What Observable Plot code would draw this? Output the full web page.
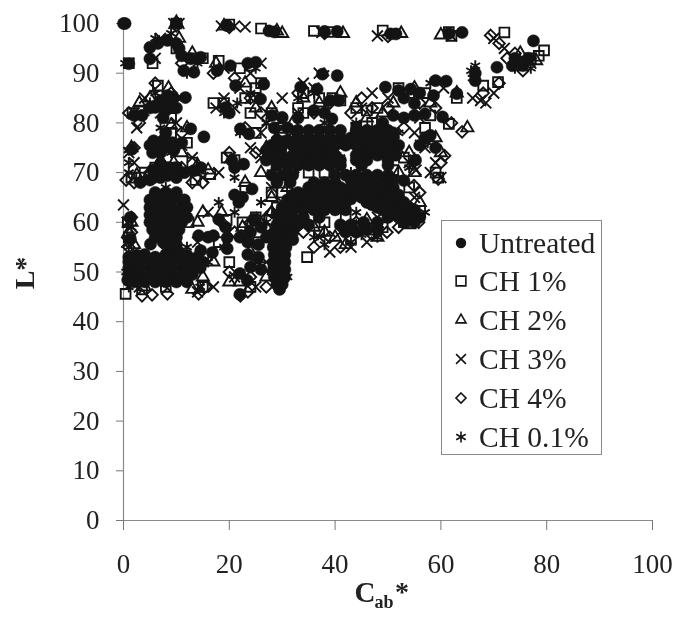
<!DOCTYPE html>
<html>
<head>
<meta charset="utf-8">
<script src="https://cdn.jsdelivr.net/npm/d3@7"></script>
<script src="https://cdn.jsdelivr.net/npm/@observablehq/plot@0.6"></script>
<style>
html,body{margin:0;padding:0;background:#fff;}
#wrap{position:relative;width:674px;height:617px;overflow:hidden;filter:blur(0.5px);}
#legend{position:absolute;left:441px;top:220px;width:161px;height:235px;border:1px solid #8a8a8a;background:#fff;box-sizing:border-box;font-family:"Liberation Serif",serif;font-size:29.5px;color:#222;}
#legend .row{position:absolute;left:0;height:38px;display:flex;align-items:center;white-space:nowrap;}
#legend svg{width:26px;height:20px;margin-left:6px;margin-right:5px;overflow:visible;}
</style>
</head>
<body>
<div id="wrap"><div id="chart"></div><div id="legend"></div></div>
<script>
const xTicks = [0,20,40,60,80,100];
const yTicks = [0,10,20,30,40,50,60,70,80,90,100];
const seriesNames = ["Untreated","CH 1%","CH 2%","CH 3%","CH 4%","CH 0.1%"];

const untreated = [
[0,100],[0.3,100],[10,100],[19.5,99.6],[27.5,98.5],[28.5,98.3],[40.4,98.4],[38,98.4],[50.5,97.9],[51.5,97.9],[64,98.2],[61.5,98],[77.5,96.5],[74,93],[75.5,91.5],[76.5,93],[73.5,91.5],[70.6,91.2],[66.5,90],[66.5,88.5],
[1,91.9],[5,92.9],[5,95.2],[8.3,96.6],[6.5,96],[10,96],[10.5,95],[11,93.5],[12.7,92.9],[14.6,93.2],[11.4,90.5],[13.3,90.2],[17.7,90.5],[20.2,91.5],[23.5,92],[25,92.2],[21.2,87.5],[26.5,87.8],[25.9,84.8],[28.1,81.5],[30,81.1],[37.6,89.8],[40.4,89.5],[36.6,86.8],[39.1,84.5],[40.7,84.5],[33.5,87.2],[36,82.5],[38,82],[39.4,80.8],[33,81],
[49.5,87.2],[52,86.5],[54.3,86.8],[56,86],[58.6,85.5],[61,88.4],[59,88.5],[63,85.9],[53,85],[55,83.9],[55,81.5],[57,81.8],[60.3,81.2],[51,81.5],[53,81],[49,80],[57,77],[56,75.5],[58,77.5],[59,75],[55.2,72.5],[53,68.4],
[11.7,85.1],[7,84.5],[8.3,85.5],[9.5,85],[6,83.1],[8,82.5],[10,83],[7.5,81],[3.5,81.5],[2,81.5],[5,83],[7,83.5],[9,84],[19.3,83.1],[20,82],[23.7,77.8],[22.1,78.8],
[15.2,77.2],[12.7,78.8],[5.7,76.4],[5.5,74],[7,74],[7.5,76.5],[9.2,76],[8,78],[11,76],[1.6,74.7],[6.5,75],[8,75],[9.5,74.5],[5,75.5],
[3.2,68],[5,68.5],[5.7,69],[7,69],[8.3,69.4],[10,69],[10,71],[7,71.7],[8.5,71],[11.5,70],[13.3,70.4],[14.6,71],[22.7,71.7],[21,71],[20.5,72.4],[24.3,66.7],[21.8,64],[21,65.5],[22.5,65],[5.5,70.5],[9,70],[6.5,70],
[6,66],[8,66],[10,66],[5,64.5],[7,64.5],[9,64.5],[11.5,64.5],[5,63],[7,63],[9,63],[11,63],[5,61.5],[7,61.5],[9,61.5],[11,61.5],[5,60],[7,60],[9,60],[11,60],[5.5,58.5],[7,58.5],[9,58.5],[10.5,58.5],[6,57],[8,57],[10,57],[5.1,55.6],[8.5,55.5],[10,55.5],[9,54],[10.5,54],[1.3,61],[1.3,56.6],
[6,65],[8,65],[10,65],[6,62.5],[8,62.5],[10,62.5],[12,63],[6,60.8],[8,60.8],[10,60.8],[12,61],[6,59.2],[8,59.2],[10,59.2],[7,57.8],[9,57.8],[7.5,56],
[18,60.6],[14.2,57.3],[16,57],[17,57.3],[19.6,56.9],[19.6,54.7],[19.3,59],[22,57],[14.6,54.3],[16.8,53.9],[22,49.7],[23.4,48.3],[22,45.5],
[1,53],[2.5,53.4],[4,53.5],[6,53],[8,53.5],[10,53.5],[12,53.4],[14,53],[1,52],[3,52],[5,52],[7,52],[9,52],[11,52],[13,52],[15,52],
[1,50.8],[3,50.8],[5,50.8],[7,50.8],[9,50.8],[11,50.8],[13,50.8],[14.5,50.8],[1,49.5],[3,49.5],[5,49.5],[7,49.5],[9,49.5],[11,49.5],[13,49.5],
[0.8,48.4],[2,48],[4,48],[6,48],[8,48],[10,48],[12,48],
[24.6,60.6],[24,58],[26,59],[27,57],[23.5,56],[25.5,55.5],[23.5,53.5],[25.5,53],[24,51],[26,50.5],
[29.5,46.5],[29,47.5],[30,47.5],[28.5,49],[29.5,49],[30.5,49],[28.5,50.5],[29.5,50.5],[30.5,50.5],[28.5,52],[29.5,52],[30.5,52],[28.5,53.5],[29.5,53.5],[30.5,53.5],[28.3,55],[29.5,55],[30.7,55],[28.3,56.5],[29.5,56.5],[30.9,56.5],[32,56.5],[28.5,58],[30,58],[31,58],[32,58],[29,59.5],[30,60],[31.5,60],[33,59.5],[29,61.5],[30,63],[31,62],[31,64.5],
[28.5,79],[31,79],[33,78.5],[35,78.5],[37,78.5],[39,78.5],[41,78.5],[44,78.5],[46,78.5],[48,78.5],[50,78.5],[51,78],
[33,77],[35,77],[37,77],[39,77],[41,77],[43,77],[45,77],[47,77],[49,77],[51,77],
[29,76.5],[31,76.5],[33,76],[35,76],[37,76],[39,76],[41,76],[43,76],[45,76],[47,76],[49,76],[51,76],
[28,75.5],[30,75.5],[32,75.5],[34,75.5],[36,75.5],[38,75.5],[40,75.5],[42,75.5],[44,75.5],[46,75.5],[48,75.5],[50,75.5],[52,75.5],
[27,74.5],[29,74.5],[33,74.5],[35,74.5],[37,74.5],[39,74.5],[45,74.5],[47,74.5],[49,74.5],[51,74.5],
[28,73.5],[30,73.5],[32,73.5],[34,73.5],[36,73.5],[38,73.5],[40,73.5],[44,73.5],[46,73.5],[48,73.5],[50,73.5],[51.5,73.5],
[27,72.5],[29,72.5],[31,72.5],[33,72.5],[35,72.5],[37,72.5],[39,72.5],[41,72.5],[44,72.5],[46,72.5],[50,72.5],
[29,71.5],[31,71.5],[33,71.5],[35,71.5],[37,71.5],[39,71.5],[41,71.5],[45,71.5],[50,71.5],
[28,69.5],[30,69.5],[32,69.5],[40,69.5],[42,69.5],[44,69.5],[46,69.5],[48,69.5],[50,69.5],
[29,68],[31.5,68],[43,68.5],[45,68.5],[47,68.5],[49,68.5],[51,68.5],[44,68],[46,68],[48,68],[50,68],
[36,68],[38,68],[40,68],[35,67],[37,67],[39,67],[41,67],[43,67],[45,67],[47,67],[49,67],[51,67],
[36,67],[38,67],[40,67],[42,66.5],[44,66.5],[46,66.5],[48,66.5],[50,66.5],
[33,66],[35,66],[37,66],[39,66],[41,66],[43,66],[45,66],[47,66],[49,66],[51,66],
[32,65.5],[34,65.5],[36,65.5],[38,65.5],[40,65.5],[42,65.5],[45,65],[47,65],[49,65],[51,65],[52,65.5],
[33,64.7],[35,64.7],[37,64.7],[39,64.7],[41,64.7],[43,64.7],[46,64],[48,64],[50,64],[52,64.5],
[32,64],[34,64],[36,64],[38,64],[40,64],[42,64],[47,63.5],[49,63.5],[51,64],[53,64],
[33,63.2],[35,63.2],[37,63.2],[39,63.2],[41,63.2],[48,63],[50,63],[52,63.2],[54,63],
[32,62.5],[34,62.5],[36,62.5],[38,62.5],[40,62.5],[42,62.5],[49,62.5],[51,62.5],[53,62.5],[55,62.5],
[32,61],[34,61],[37,61],[50,61],[52,61],[54,61],[56,61],[51,61.8],[53,61.8],[55,61.8],
[35,59.5],[41,59.5],[43,59.5],[45.4,60],[48,60],[53,60],[55,60],[42,58],[44,58],[46,58.5],[48,58.5]
];

const ch1 = [
[10,100],[20,99.8],[26,99],[36,98.5],[39,98.3],[49,98.6],[61.5,98.3],[62,97.5],[72,98.2],[79.5,94.6],[78.5,93.5],[77,93],[70.8,88.2],[68,87.5],[63,85],[58,81.5],[61.5,79.8],[57,79],[59,70],[59.5,69],[53,73],[51,70.5],[54,67],[55,62],[53,60],[47,58.5],[49,59],[34.7,53],[0.4,45.6],[3.5,46.5],[16.4,69.7],[13.6,68.5],[12.3,60],[19.5,60.5],[22.5,60],[27.5,60.5],[25.5,56],[26.5,51],[0.8,60],[1,57],[1.5,69],[1.7,82],[3,82.5],[9,81],[6.5,87.5],[1,92],[5.5,92],[10,95],[13,93],[15,93],[18,92.5],[22,91],[24,91.5],[25,87],[26,88],[23,85],[19,84],[17,84],[24,82],[28,82],[29.5,79],[25,78],[21,72.5],[19.5,73],[23,67],[33,83],[34,86],[37,85],[39.5,85],[41,84.5],[34,82],[44,83],[46,82.5],[48,83],[52,87],[54,86],[57,86],[10,71],[13,72],[12,76],[9,78],[6,71],[4,70],[3,69],[28,66],[30,66],[25,61],[18,56],[20,52],[15,47],[24,47],[42,61],[45,59],[38,60],[37,58],[43,56.5],[29,63],[2,49],[8,47],[35,70],[38,70],[44,79],[47,80]
];

const ch2 = [
[10,100.2],[19,99.5],[30,98],[29,98.5],[41.5,98],[52.5,98],[60,97.7],[75,94],[78,92.5],[63,86],[65,79],[59,77],[60,74],[55,70],[56,64],[54,59.5],[44,59],[46,60.5],[1,58],[1.5,60],[2,55.5],[1.5,75],[2.5,69.5],[5,70],[7,72.5],[9,79.5],[14,71.5],[16,70.5],[15,62],[14,60],[18.5,62],[23,68],[22.5,59],[25,60],[27,59],[9.5,72],[11,74],[12,79],[8.5,87],[3,84],[5,85],[10.5,97],[13,94],[17.5,92],[23,88],[25,83],[28,83],[34,85],[37,84],[41,86],[44,84],[46,81],[49,82],[51,84],[55,87],[58,84],[32,80],[30,78],[27,75],[26,70],[28,65],[28,62],[31,67],[36,59],[38,58],[40,57],[42,55.5],[48,57],[50,66],[52,70],[54,74],[20,48],[22,48],[15,49],[17,52],[24,54],[27,49],[29,50],[9,49],[13,46.5],[4,47]
];

const ch3 = [
[0,63.5],[0.7,60],[0.6,56],[1,74],[2,72],[1,50],[2,82],[2.5,79],[1,92],[6,93],[7,97],[9.5,100],[10.5,100],[18.5,99.5],[21,99.5],[23,99.3],[37.5,98.2],[48,97.5],[62,97.5],[70,97],[72,95],[77,92],[70,86],[67.5,84.5],[68.5,84],[66,85],[60.5,87],[56,81],[55,78],[57,75],[59,72],[55.3,70.5],[54,72],[52,75],[55,65],[58,70],[60,69],[33,82],[36,87],[37,90],[34,88],[30,85],[27,80],[24,85],[22,87],[21,83],[19,85],[17.5,83],[20,73],[18,70],[24,75],[26,78],[26,73],[15,69],[13,73],[11,75.5],[10,80],[7,82],[4,85],[19,91],[24,90],[26,92],[3,47],[8,54],[14,56],[16,62],[17,47],[14,46],[21,49],[25,47],[27,52],[26,61],[30,64],[28,67],[29,78],[45,83],[47,86],[50,85],[44,79],[54,61],[41,58],[43,55],[37,57],[39,54],[48,61],[46,56]
];

const ch4 = [
[10,99.5],[20,99.2],[38,98],[50,97.4],[69.4,97.6],[71,96],[74,94],[72.5,93],[75.5,90.5],[71,88],[68,86],[64,78.2],[60.7,73.4],[60,72],[59.5,68.7],[54.9,67.4],[56,66],[55.8,60],[52,59],[49.8,58],[47,57.5],[41,55],[36,55],[39,57],[0.5,68.5],[2,68],[2,50],[3.5,45.2],[5.4,45.4],[8.3,45.6],[14.2,45.6],[22.1,45.2],[23.5,46],[15.5,47],[1,55],[1.5,58],[1.5,61],[2,75],[1,82],[3,80],[5,70],[8,71],[11,71],[15,68],[18.5,60],[21,58],[24,60],[20,50],[24,49],[25,52],[27,47],[6,88],[9,86],[11,92],[17,90],[21,89],[24,85],[26,82],[33,86],[36,82],[39,84],[43,82],[45,85],[47,83],[50,83],[53,79],[56,84],[59,83],[62,80],[29,76],[32,70],[35,72],[38,74],[42,76],[46,74],[28,62],[31,60],[34,58],[44,60],[48,59],[20,74],[25,74],[23,79],[11,78],[13,68]
];

const ch01 = [
[0.3,92],[1,74.5],[1,72],[1.5,59],[1,55],[1,47],[4,82],[5,84],[6,86],[6,97],[9,98],[14,92],[18,91],[25,91],[24,86],[21.5,84],[19,82],[27,80],[29,79],[32,78],[36,86],[38,90],[33,85],[38,80],[44,80],[47,79],[52,78],[56,76],[57.5,76],[55,73],[54,71],[50,68],[52,62],[54,61.5],[57,62],[48,57],[43,56],[45,57.5],[38,55.5],[36,57],[28,50],[29.5,47],[31,49],[30,52],[29,55],[31,58],[33,63],[35,66],[25,52],[27,60],[23,58],[21,62],[18,64],[19,55],[16,52],[13,50],[14.5,47],[12,55],[8,67],[9,74],[7,79],[10,85],[12,90],[65.7,90.5],[66,89],[66.5,91.5],[58,88],[74,91],[75,93],[77,91],[48,65],[42,64],[28,70],[30,75],[41,73],[43,70],[44,62],[22,78],[21,69],[26,64],[1,70],[3,68],[0.5,50]
];

const allSeries = [
  {data: untreated, symbol: "circle", r: 6.1, filled: true},
  {data: ch1, symbol: "square2", r: 6.2},
  {data: ch2, symbol: "triangle2", r: 5.8},
  {data: ch3, symbol: "times", r: 5},
  {data: ch4, symbol: "diamond2", r: 5.2},
  {data: ch01, symbol: "asterisk", r: 5.2}
];
const ink = "#141414";

const dots = allSeries.map(s => Plot.dot(s.data, {
  x: d => d[0], y: d => d[1], symbol: s.symbol, r: s.r,
  fill: s.filled ? ink : "none",
  stroke: ink,
  strokeWidth: s.filled ? 0.5 : 1.9
}));

const chart = Plot.plot({
  width: 674, height: 617,
  marginLeft: 123, marginRight: 22, marginTop: 23, marginBottom: 97,
  style: {fontFamily: '"Liberation Serif", serif', background: "white", color: "#222", overflow: "visible"},
  x: {domain: [0,100]},
  y: {domain: [0,100]},
  marks: [
    Plot.ruleX([0], {stroke: "#8a8a8a", strokeWidth: 1.2}),
    Plot.ruleY([0], {stroke: "#8a8a8a", strokeWidth: 1.2}),
    Plot.axisX({ticks: xTicks, tickSize: 10, tickPadding: 23, fontSize: 27, label: null, stroke: "#777", tickFormat: d => d, fill: "#222"}),
    Plot.axisY({ticks: yTicks, tickSize: 7, tickPadding: 17, fontSize: 27, label: null, stroke: "#777", tickFormat: d => d, fill: "#222"}),
    ...dots,
    Plot.text(["L*"], {frameAnchor: "left", textAnchor: "middle", rotate: -90, dx: -98, dy: 1, fontSize: 28, fontWeight: "bold", fill: "#222"}),
    Plot.text(["C"], {frameAnchor: "bottom", dx: -23, dy: 81, fontSize: 29, fontWeight: "bold", fill: "#222"}),
    Plot.text(["ab"], {frameAnchor: "bottom", dx: -4, dy: 87, fontSize: 18, fontWeight: "bold", fill: "#222"}),
    Plot.text(["*"], {frameAnchor: "bottom", dx: 14, dy: 80, fontSize: 28, fontWeight: "bold", fill: "#222"})
  ]
});
document.getElementById("chart").appendChild(chart);

// legend
const legend = d3.select("#legend");
const legendTop = [3, 41, 80, 119, 158, 197];
const legendSymbols = [d3.symbolCircle, d3.symbolSquare2, d3.symbolTriangle2, d3.symbolTimes, d3.symbolDiamond2, d3.symbolAsterisk];
const legendSizes = [85, 120, 72, 65, 64, 85];
seriesNames.forEach((name, i) => {
  const row = legend.append("div").attr("class", "row").style("top", legendTop[i] + "px");
  const svg = row.append("svg").attr("viewBox", "-13 -10 26 20");
  svg.append("path")
    .attr("d", d3.symbol(legendSymbols[i], legendSizes[i])())
    .attr("fill", i === 0 ? ink : "none")
    .attr("stroke", ink)
    .attr("stroke-width", i === 0 ? 0 : 1.6);
  row.append("span").text(name);
});
</script>
</body>
</html>
